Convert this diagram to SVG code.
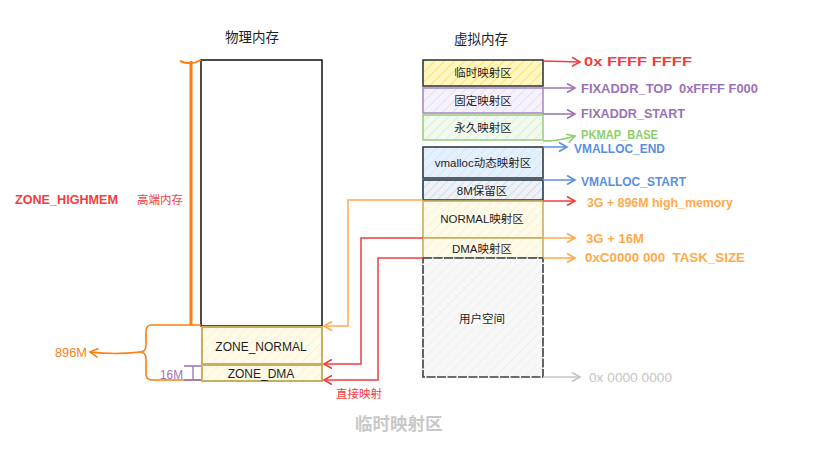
<svg xmlns="http://www.w3.org/2000/svg" width="822" height="453" viewBox="0 0 822 453">
<defs>
<pattern id="hY" width="7" height="7" patternUnits="userSpaceOnUse" patternTransform="rotate(45)"><rect width="7" height="7" fill="#fff7c2"/><line x1="0" y1="0" x2="0" y2="7" stroke="#ffe066" stroke-width="2"/></pattern>
<pattern id="hP" width="7" height="7" patternUnits="userSpaceOnUse" patternTransform="rotate(45)"><rect width="7" height="7" fill="#f6f2fb"/><line x1="0" y1="0" x2="0" y2="7" stroke="#e2d6f0" stroke-width="1.5"/></pattern>
<pattern id="hG" width="7" height="7" patternUnits="userSpaceOnUse" patternTransform="rotate(45)"><rect width="7" height="7" fill="#f2f9ee"/><line x1="0" y1="0" x2="0" y2="7" stroke="#d8ecd0" stroke-width="1.5"/></pattern>
<pattern id="hB" width="7" height="7" patternUnits="userSpaceOnUse" patternTransform="rotate(45)"><rect width="7" height="7" fill="#e4f0fc"/><line x1="0" y1="0" x2="0" y2="7" stroke="#cfe3f8" stroke-width="1.5"/></pattern>
<pattern id="hS" width="6" height="6" patternUnits="userSpaceOnUse" patternTransform="rotate(45)"><rect width="6" height="6" fill="#eef1f5"/><line x1="0" y1="0" x2="0" y2="6" stroke="#c9d0da" stroke-width="1.2"/></pattern>
<pattern id="hN" width="7" height="7" patternUnits="userSpaceOnUse" patternTransform="rotate(45)"><rect width="7" height="7" fill="#fffbea"/><line x1="0" y1="0" x2="0" y2="7" stroke="#fbefc6" stroke-width="1.5"/></pattern>
<pattern id="hU" width="7" height="7" patternUnits="userSpaceOnUse" patternTransform="rotate(45)"><rect width="7" height="7" fill="#f8f8f8"/><line x1="0" y1="0" x2="0" y2="7" stroke="#ececec" stroke-width="1.5"/></pattern>
<marker id="aRed" markerWidth="12" markerHeight="12" refX="10" refY="6" orient="auto" markerUnits="userSpaceOnUse"><polyline points="2,1.5 10,6 2,10.5" fill="none" stroke="#f03e3e" stroke-width="1.6"/></marker>
<marker id="aPur" markerWidth="12" markerHeight="12" refX="10" refY="6" orient="auto" markerUnits="userSpaceOnUse"><polyline points="2,1.5 10,6 2,10.5" fill="none" stroke="#9b72b5" stroke-width="1.6"/></marker>
<marker id="aGrn" markerWidth="12" markerHeight="12" refX="10" refY="6" orient="auto" markerUnits="userSpaceOnUse"><polyline points="2,1.5 10,6 2,10.5" fill="none" stroke="#8ccf6a" stroke-width="1.6"/></marker>
<marker id="aBlu" markerWidth="12" markerHeight="12" refX="10" refY="6" orient="auto" markerUnits="userSpaceOnUse"><polyline points="2,1.5 10,6 2,10.5" fill="none" stroke="#5b8fde" stroke-width="1.6"/></marker>
<marker id="aOrg" markerWidth="12" markerHeight="12" refX="10" refY="6" orient="auto" markerUnits="userSpaceOnUse"><polyline points="2,1.5 10,6 2,10.5" fill="none" stroke="#ffa94d" stroke-width="1.6"/></marker>
<marker id="aOrgD" markerWidth="12" markerHeight="12" refX="10" refY="6" orient="auto" markerUnits="userSpaceOnUse"><polyline points="2,1.5 10,6 2,10.5" fill="none" stroke="#fd7e14" stroke-width="1.6"/></marker>
<marker id="aGry" markerWidth="12" markerHeight="12" refX="10" refY="6" orient="auto" markerUnits="userSpaceOnUse"><polyline points="2,1.5 10,6 2,10.5" fill="none" stroke="#c4c4c4" stroke-width="1.6"/></marker>
</defs>
<style>
text{font-family:"Liberation Sans","Noto Sans CJK SC",sans-serif;}
.t{font-size:11.5px;fill:#1e1e1e;text-anchor:middle;}
.title{font-size:13.5px;fill:#1e1e1e;text-anchor:middle;}
.lab{font-size:12px;font-weight:bold;}
.c{fill:none;stroke-width:1.5;}
</style>

<rect width="822" height="453" fill="#ffffff"/>

<text class="title" x="252" y="42">物理内存</text>
<text class="title" x="481" y="44">虚拟内存</text>

<g id="phys-high"><rect x="201" y="60" width="121" height="266" fill="#ffffff" stroke="#1e1e1e" stroke-width="1.6"/></g>
<g id="zone-normal"><rect x="202" y="327" width="120" height="37" fill="url(#hN)" stroke="#c9ae5d" stroke-width="2"/><text class="t" x="261" y="351" style="font-size:12px">ZONE_NORMAL</text></g>
<g id="zone-dma"><rect x="202" y="365" width="120" height="16" fill="url(#hN)" stroke="#c9ae5d" stroke-width="2"/><text class="t" x="261" y="378" style="font-size:12px">ZONE_DMA</text></g>

<g id="highmem-bracket">
<path d="M180,61 Q191,66 201,60" fill="none" stroke="#fd7e14" stroke-width="2"/>
<line x1="191" y1="61" x2="191" y2="325" stroke="#fd7e14" stroke-width="3"/>
<text class="lab" x="15" y="204" fill="#f03e3e" textLength="103" lengthAdjust="spacingAndGlyphs">ZONE_HIGHMEM</text>
<text x="137" y="204" fill="#f03e3e" style="font-size:11.5px">高端内存</text>
</g>
<g id="brace-896">
<path d="M201,325 H152 Q146,325 146,331 V345 Q146,352 140,352 Q146,352 146,359 V374 Q146,380 152,380 H201" fill="none" stroke="#fd7e14" stroke-width="1.6"/>
<path d="M140,352 Q115,355 90,352" fill="none" stroke="#fd7e14" stroke-width="1.6" marker-end="url(#aOrgD)"/>
<text x="55" y="357" fill="#fd7e14" style="font-size:12px" textLength="32" lengthAdjust="spacingAndGlyphs">896M</text>
</g>
<g id="bracket-16">
<path d="M184,366 H201 M193,366 V380 M184,380 H201" fill="none" stroke="#9b72b5" stroke-width="1.3"/>
<text x="160" y="379" fill="#9b72b5" style="font-size:12px" textLength="23" lengthAdjust="spacingAndGlyphs">16M</text>
</g>

<g id="virt-temp"><rect x="423" y="60" width="120" height="26" fill="url(#hY)" stroke="#343a40" stroke-width="1.6"/><text class="t" x="483" y="77">临时映射区</text></g>
<g id="virt-fix"><rect x="423" y="88" width="120" height="25" fill="url(#hP)" stroke="#a98bc6" stroke-width="1.6"/><text class="t" x="483" y="105">固定映射区</text></g>
<g id="virt-pkmap"><rect x="423" y="115" width="120" height="25" fill="url(#hG)" stroke="#9ccf82" stroke-width="1.6"/><text class="t" x="483" y="132">永久映射区</text></g>
<g id="virt-vmalloc"><rect x="423" y="147" width="120" height="31" fill="url(#hB)" stroke="#343a40" stroke-width="1.6"/><text class="t" x="483" y="167">vmalloc动态映射区</text></g>
<g id="virt-8m"><rect x="423" y="180" width="120" height="20" fill="url(#hS)" stroke="#1f3b57" stroke-width="1.6"/><text class="t" x="482" y="195">8M保留区</text></g>
<g id="virt-normal"><rect x="423" y="201" width="120" height="37" fill="url(#hN)" stroke="#c9ae5d" stroke-width="1.6"/><text class="t" x="482" y="223">NORMAL映射区</text></g>
<g id="virt-dma"><rect x="423" y="238" width="120" height="20" fill="url(#hN)" stroke="#c9ae5d" stroke-width="1.6"/><text class="t" x="482" y="253">DMA映射区</text></g>
<g id="virt-user"><rect x="423" y="258" width="120" height="119" fill="url(#hU)" stroke="#3b3f44" stroke-width="1.6" stroke-dasharray="9 1.5"/><text class="t" x="482" y="323">用户空间</text></g>

<g id="connectors">
<line class="c" x1="543" y1="61" x2="580" y2="62" stroke="#f03e3e" marker-end="url(#aRed)"/>
<line class="c" x1="543" y1="88" x2="575" y2="88" stroke="#9b72b5" marker-end="url(#aPur)"/>
<line class="c" x1="543" y1="114" x2="575" y2="114" stroke="#9b72b5" marker-end="url(#aPur)"/>
<path class="c" d="M543,141 Q560,141 575,136" stroke="#8ccf6a" marker-end="url(#aGrn)"/>
<line class="c" x1="543" y1="147" x2="567" y2="147" stroke="#5b8fde" marker-end="url(#aBlu)"/>
<line class="c" x1="543" y1="180" x2="575" y2="180" stroke="#5b8fde" marker-end="url(#aBlu)"/>
<line class="c" x1="543" y1="201" x2="575" y2="201" stroke="#f03e3e" marker-end="url(#aRed)"/>
<line class="c" x1="543" y1="238" x2="575" y2="238" stroke="#ffa94d" marker-end="url(#aOrg)"/>
<line class="c" x1="543" y1="258" x2="575" y2="258" stroke="#ffa94d" marker-end="url(#aOrg)"/>
<line class="c" x1="543" y1="377" x2="580" y2="377" stroke="#c4c4c4" marker-end="url(#aGry)"/>
<path class="c" d="M423,200 H348 V326 H324" stroke="#ffa94d" marker-end="url(#aOrg)"/>
<path class="c" d="M423,238 H361 V364 H324" stroke="#f03e3e" marker-end="url(#aRed)"/>
<path class="c" d="M423,258 H378 V380 H324" stroke="#f03e3e" marker-end="url(#aRed)"/>
</g>

<g id="labels">
<text class="lab" x="584" y="66" fill="#f03e3e" textLength="108" lengthAdjust="spacingAndGlyphs">0x FFFF FFFF</text>
<text class="lab" x="581" y="93" fill="#9b72b5" textLength="177" lengthAdjust="spacingAndGlyphs" xml:space="preserve">FIXADDR_TOP  0xFFFF F000</text>
<text class="lab" x="581" y="118" fill="#9b72b5" textLength="104" lengthAdjust="spacingAndGlyphs">FIXADDR_START</text>
<text class="lab" x="581" y="139" fill="#8ccf6a" textLength="77" lengthAdjust="spacingAndGlyphs">PKMAP_BASE</text>
<text class="lab" x="574" y="153" fill="#5b8fde" textLength="91" lengthAdjust="spacingAndGlyphs">VMALLOC_END</text>
<text class="lab" x="581" y="186" fill="#5b8fde" textLength="105" lengthAdjust="spacingAndGlyphs">VMALLOC_START</text>
<text class="lab" x="587" y="207" fill="#ffa94d" textLength="146" lengthAdjust="spacingAndGlyphs">3G + 896M high_memory</text>
<text class="lab" x="586" y="243" fill="#ffa94d" textLength="58" lengthAdjust="spacingAndGlyphs">3G + 16M</text>
<text class="lab" x="585" y="262" fill="#ffa94d" textLength="160" lengthAdjust="spacingAndGlyphs" xml:space="preserve">0xC0000 000  TASK_SIZE</text>
<text x="589" y="382" fill="#c4c4c4" style="font-size:12px" textLength="83" lengthAdjust="spacingAndGlyphs">0x 0000 0000</text>
<text x="336" y="398" fill="#f03e3e" style="font-size:11.5px">直接映射</text>
<text x="355" y="430" fill="#c8c8c8" style="font-size:17.5px;font-weight:bold">临时映射区</text>
</g>
</svg>
